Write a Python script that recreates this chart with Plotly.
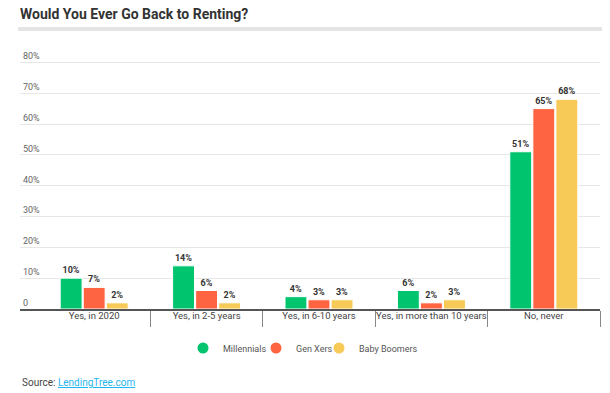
import plotly.graph_objects as go

categories = ["Yes, in 2020", "Yes, in 2-5 years", "Yes, in 6-10 years", "Yes, in more than 10 years", "No, never"]
millennials = [10, 14, 4, 6, 51]
gen_xers = [7, 6, 3, 2, 65]
baby_boomers = [2, 2, 3, 3, 68]
series_names = ["Millennials", "Gen Xers", "Baby Boomers"]
colors = ["#00C46E", "#FF6442", "#F7C956"]
ytick_vals = [0, 10, 20, 30, 40, 50, 60, 70, 80]
ytick_text = ["0", "10%", "20%", "30%", "40%", "50%", "60%", "70%", "80%"]

# page body has an 8px margin, so figure coords = screen coords - 8
OFF = 8
PLOT_LEFT = 12
PLOT_W = 580
PLOT_TOP = 42
PLOT_BOTTOM = 301
PLOT_H = PLOT_BOTTOM - PLOT_TOP

def py(screen_y):
    return (PLOT_BOTTOM - (screen_y - OFF)) / PLOT_H

def px(screen_x):
    return (screen_x - OFF - PLOT_LEFT) / PLOT_W

legend_ids = ["legend", "legend2", "legend3"]
legend_circle_x = [202, 275, 338]

fig = go.Figure()
for name, vals, col in zip(series_names, [millennials, gen_xers, baby_boomers], colors):
    fig.add_trace(go.Bar(
        x=categories, y=vals, name=name, marker=dict(color=col, line=dict(color="white", width=1)),
        text=[f"{v}%" for v in vals], textposition="outside", cliponaxis=False,
        textfont=dict(family="Roboto", size=9, color="#333", weight="bold"),
        showlegend=False, hoverinfo="skip"))
for name, col, lid in zip(series_names, colors, legend_ids):
    fig.add_trace(go.Scatter(x=[None], y=[None], mode="markers", name=name, legend=lid,
                             marker=dict(symbol="circle", size=11, color=col)))

legend_common = dict(orientation="h", yanchor="middle", xanchor="left", y=py(348),
                     font=dict(size=9, color="#555"), itemwidth=30, bgcolor="rgba(0,0,0,0)")

fig.update_layout(
    width=610, height=393,
    margin=dict(l=PLOT_LEFT, r=610 - PLOT_LEFT - PLOT_W, t=PLOT_TOP, b=393 - PLOT_BOTTOM, autoexpand=False),
    paper_bgcolor="white", plot_bgcolor="white",
    font=dict(family="Roboto", color="#444"),
    barmode="group", bargap=0.385, bargroupgap=0.05,
    title=dict(text="<b>Would You Ever Go Back to Renting?</b>", x=12/610, xanchor="left",
               y=1 - 6.5/393, yanchor="middle", font=dict(size=14, color="#333")),
    legend=dict(legend_common, x=px(legend_circle_x[0] - 19)),
    legend2=dict(legend_common, x=px(legend_circle_x[1] - 19)),
    legend3=dict(legend_common, x=px(legend_circle_x[2] - 19)),
    xaxis=dict(range=[-0.66, 4.5], tickson="boundaries", ticks="outside", ticklen=16,
               tickcolor="#888", tickwidth=1, ticklabelstandoff=-3, tickangle=0, automargin=False,
               showline=True, linecolor="#555", linewidth=1.5,
               tickfont=dict(size=9.5, color="#444"), showgrid=False, fixedrange=True),
    yaxis=dict(range=[0, 84], tickvals=ytick_vals, ticktext=ytick_text, automargin=False,
               ticklabelposition="inside top", tickfont=dict(size=9, color="#666"),
               showgrid=True, gridcolor="#e6e6e6", gridwidth=1, zeroline=False, fixedrange=True),
    shapes=[dict(type="rect", xref="paper", yref="paper", x0=-2/580, x1=1.03,
                 y0=py(27), y1=py(31), fillcolor="#e5e5e5", line=dict(width=0))],
    annotations=[dict(text='Source: <span style="color:#1fb5f0"><u>LendingTree.com</u></span>',
                      xref="paper", yref="paper", x=0, xanchor="left",
                      y=py(382), yanchor="middle", showarrow=False,
                      font=dict(size=10, color="#444"))],
)

fig.write_html("out.html")
